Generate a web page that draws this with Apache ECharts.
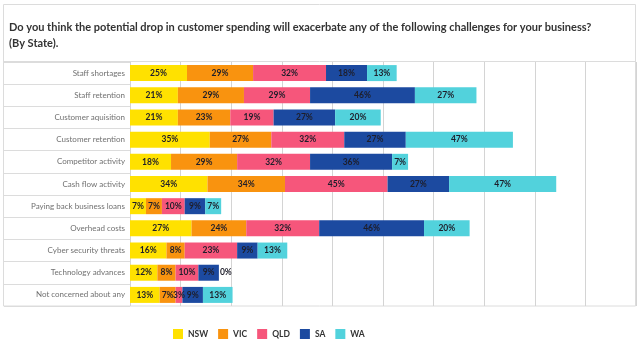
<!DOCTYPE html>
<html>
<head>
<meta charset="utf-8">
<script src="https://cdn.jsdelivr.net/npm/echarts@6/dist/echarts.min.js"></script>
<style>
  html, body { margin: 0; padding: 0; background: #fff; }
  #main { width: 640px; height: 347px; }
</style>
</head>
<body>
<div id="main"></div>
<script>
var challenges = ['Staff shortages', 'Staff retention', 'Customer aquisition', 'Customer retention',
  'Competitor activity', 'Cash flow activity', 'Paying back business loans', 'Overhead costs',
  'Cyber security threats', 'Technology advances', 'Not concerned about any'];
var states = ['NSW', 'VIC', 'QLD', 'SA', 'WA'];
var nsw = [25, 21, 21, 35, 18, 34, 7, 27, 16, 12, 13];
var vic = [29, 29, 23, 27, 29, 34, 7, 24, 8, 8, 7];
var qld = [32, 29, 19, 32, 32, 45, 10, 32, 23, 10, 3];
var sa  = [18, 46, 27, 27, 36, 27, 9, 46, 9, 9, 9];
var wa  = [13, 27, 20, 47, 7, 47, 7, 20, 13, 0, 13];
var colors = ['#FFE100', '#F9930F', '#F6567B', '#1C4AA0', '#52D2DC'];

var myChart = echarts.init(document.getElementById('main'));

function makeSeries(name, values, color) {
  return {
    name: name,
    type: 'bar',
    stack: 'all',
    barWidth: 16,
    itemStyle: { color: color },
    label: {
      show: true,
      position: 'inside',
      formatter: '{c}%',
      fontFamily: 'Lato',
      fontSize: 8.5,
      fontWeight: 'bold',
      color: '#1e1e2a'
    },
    data: values.map(function (v) {
      // zero-width segment: put its label just after the bar end
      return v === 0 ? { value: v, label: { position: 'right', distance: 1 } } : v;
    })
  };
}

var option = {
  animation: false,
  textStyle: { fontFamily: 'Lato' },
  graphic: [
    { type: 'rect', shape: { x: 3.5, y: 4.5, width: 632, height: 301.5 },
      style: { fill: 'none', stroke: '#dcdcdc', lineWidth: 1 } },
    { type: 'line', shape: { x1: 3.5, y1: 61.5, x2: 635.5, y2: 61.5 },
      style: { stroke: '#dcdcdc', lineWidth: 1 } },
    { type: 'text', left: 9, top: 19,
      style: {
        text: 'Do you think the potential drop in customer spending will exacerbate any of the following challenges for your business?\n(By State).',
        font: 'bold 11px Lato', fill: '#333', lineHeight: 16
      } }
  ],
  legend: {
    data: states,
    left: 168,
    top: 324,
    icon: 'rect',
    itemWidth: 10,
    itemHeight: 10,
    itemGap: 10,
    textStyle: { fontSize: 8.5, fontWeight: 'bold', color: '#333', width: 42 }
  },
  grid: { left: 130, right: 4, top: 62, bottom: 41, containLabel: false },
  xAxis: {
    type: 'value',
    min: 0,
    max: 222,
    interval: 22.2,
    axisLabel: { show: false },
    axisTick: { show: false },
    axisLine: { show: false },
    splitLine: { show: true, lineStyle: { color: '#d4d4d4', width: 1 } }
  },
  yAxis: {
    type: 'category',
    inverse: true,
    data: challenges,
    axisLine: { show: false },
    axisTick: { show: true, length: 126, lineStyle: { color: '#dcdcdc' } },
    axisLabel: { margin: 5, fontSize: 8, color: '#707070' }
  },
  series: [
    makeSeries(states[0], nsw, colors[0]),
    makeSeries(states[1], vic, colors[1]),
    makeSeries(states[2], qld, colors[2]),
    makeSeries(states[3], sa, colors[3]),
    makeSeries(states[4], wa, colors[4])
  ]
};

myChart.setOption(option);
</script>
</body>
</html>
